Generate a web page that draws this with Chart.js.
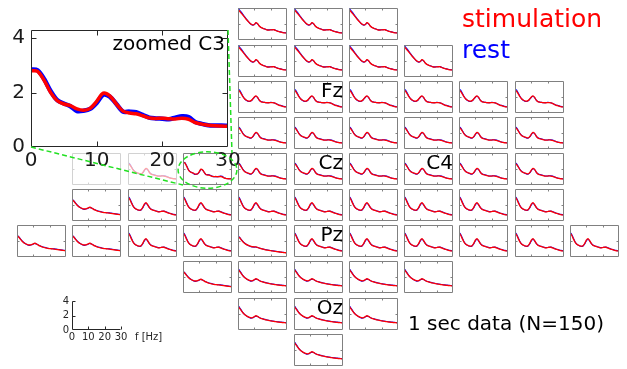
<!DOCTYPE html>
<html>
<head>
<meta charset="utf-8">
<script src="https://cdn.jsdelivr.net/npm/chart.js@4.4.0/dist/chart.umd.min.js"></script>
<style>
  html, body { margin: 0; padding: 0; background: #fff; }
  #fig { position: relative; width: 627px; height: 369px; overflow: hidden; }
  #fig canvas { position: absolute; }
</style>
</head>
<body>
<div id="fig"></div>
<script>
// frequency axis (Hz) shared by every spectrum
const freqs = [0, 1, 2, 3, 4, 5, 6, 7, 8, 9, 10, 11, 12, 13, 14, 15, 16, 17, 18, 19, 20, 21, 22, 23, 24, 25, 26, 27, 28, 29, 30];

const seriesNames = ['stimulation', 'rest'];
const seriesColors = ['#ff0000', '#0000ff'];

// C3 (shown in the zoomed inset)
const c3Stim = [2.80, 2.78, 2.45, 2.00, 1.70, 1.58, 1.52, 1.40, 1.35, 1.42, 1.68, 1.98, 1.88, 1.58, 1.32, 1.25, 1.22, 1.15, 1.07, 1.05, 1.06, 1.04, 1.03, 1.06, 1.02, 0.90, 0.84, 0.80, 0.78, 0.77, 0.76];
const c3Rest = [2.85, 2.82, 2.50, 2.05, 1.72, 1.60, 1.50, 1.32, 1.33, 1.40, 1.62, 1.92, 1.85, 1.58, 1.30, 1.30, 1.28, 1.18, 1.08, 1.05, 1.04, 1.02, 1.08, 1.13, 1.10, 0.92, 0.85, 0.80, 0.79, 0.79, 0.78];

// frontal channels
const frontStim = [3.80, 3.60, 3.35, 3.10, 2.85, 2.60, 2.38, 2.15, 1.98, 1.88, 1.95, 2.18, 2.05, 1.75, 1.58, 1.48, 1.40, 1.32, 1.25, 1.24, 1.26, 1.28, 1.28, 1.20, 1.10, 1.05, 1.00, 0.95, 0.90, 0.88, 0.86];
const frontRest = [3.95, 3.75, 3.48, 3.20, 2.92, 2.65, 2.40, 2.15, 1.96, 1.86, 1.92, 2.12, 2.02, 1.75, 1.58, 1.48, 1.40, 1.33, 1.27, 1.26, 1.28, 1.30, 1.30, 1.22, 1.12, 1.06, 1.02, 0.97, 0.93, 0.90, 0.88];

// fronto-central row
const midStim = [2.90, 2.70, 2.40, 2.05, 1.78, 1.62, 1.52, 1.48, 1.55, 1.75, 2.00, 2.15, 1.95, 1.62, 1.42, 1.36, 1.33, 1.30, 1.28, 1.28, 1.30, 1.30, 1.28, 1.20, 1.08, 0.98, 0.92, 0.86, 0.80, 0.76, 0.74];
const midRest = [3.05, 2.85, 2.50, 2.10, 1.80, 1.60, 1.48, 1.44, 1.52, 1.72, 1.96, 2.10, 1.92, 1.62, 1.44, 1.38, 1.34, 1.30, 1.28, 1.30, 1.33, 1.32, 1.28, 1.20, 1.10, 1.01, 0.95, 0.89, 0.83, 0.79, 0.78];

// central channels
const centStim = [2.70, 2.55, 2.25, 1.92, 1.70, 1.58, 1.50, 1.42, 1.40, 1.55, 1.85, 2.08, 1.95, 1.62, 1.38, 1.28, 1.24, 1.18, 1.12, 1.10, 1.12, 1.14, 1.12, 1.08, 1.00, 0.92, 0.86, 0.82, 0.78, 0.76, 0.74];
const centRest = [2.80, 2.65, 2.32, 1.96, 1.72, 1.58, 1.48, 1.38, 1.36, 1.50, 1.80, 2.02, 1.92, 1.62, 1.40, 1.32, 1.28, 1.22, 1.15, 1.12, 1.13, 1.15, 1.16, 1.12, 1.04, 0.95, 0.88, 0.84, 0.81, 0.79, 0.78];

// parietal channels
const parStim = [3.00, 2.75, 2.30, 1.90, 1.62, 1.48, 1.40, 1.36, 1.42, 1.70, 2.10, 2.30, 2.05, 1.70, 1.48, 1.38, 1.32, 1.25, 1.18, 1.15, 1.18, 1.22, 1.22, 1.15, 1.05, 0.98, 0.92, 0.86, 0.80, 0.76, 0.74];
const parRest = [3.10, 2.85, 2.38, 1.95, 1.65, 1.48, 1.38, 1.32, 1.38, 1.62, 2.00, 2.22, 2.02, 1.70, 1.50, 1.40, 1.33, 1.26, 1.20, 1.17, 1.19, 1.22, 1.23, 1.18, 1.08, 1.00, 0.94, 0.88, 0.83, 0.80, 0.78];

// temporal channels
const tempStim = [2.65, 2.50, 2.25, 2.00, 1.82, 1.68, 1.58, 1.52, 1.50, 1.55, 1.65, 1.72, 1.62, 1.48, 1.38, 1.30, 1.22, 1.16, 1.12, 1.08, 1.05, 1.03, 1.01, 0.98, 0.95, 0.92, 0.89, 0.86, 0.83, 0.80, 0.78];
const tempRest = [2.72, 2.56, 2.30, 2.04, 1.84, 1.68, 1.56, 1.48, 1.46, 1.52, 1.62, 1.70, 1.62, 1.50, 1.40, 1.32, 1.25, 1.20, 1.15, 1.10, 1.06, 1.04, 1.03, 1.01, 0.98, 0.95, 0.92, 0.89, 0.86, 0.83, 0.81];

// channel without alpha peak
const flatStim = [2.55, 2.40, 2.15, 1.90, 1.72, 1.58, 1.48, 1.40, 1.33, 1.28, 1.26, 1.26, 1.20, 1.12, 1.05, 1.00, 0.95, 0.90, 0.86, 0.82, 0.79, 0.76, 0.73, 0.70, 0.67, 0.64, 0.61, 0.58, 0.55, 0.53, 0.50];
const flatRest = [2.62, 2.46, 2.20, 1.94, 1.75, 1.60, 1.48, 1.38, 1.30, 1.26, 1.24, 1.24, 1.19, 1.12, 1.06, 1.01, 0.96, 0.92, 0.88, 0.84, 0.81, 0.78, 0.75, 0.72, 0.69, 0.66, 0.63, 0.60, 0.58, 0.56, 0.54];

// occipital channels
const occStim = [2.95, 2.70, 2.42, 2.15, 1.95, 1.80, 1.68, 1.58, 1.52, 1.56, 1.68, 1.78, 1.70, 1.56, 1.46, 1.40, 1.34, 1.28, 1.22, 1.18, 1.14, 1.10, 1.07, 1.04, 1.01, 0.98, 0.96, 0.94, 0.92, 0.90, 0.88];
const occRest = [3.05, 2.80, 2.48, 2.18, 1.96, 1.80, 1.66, 1.55, 1.48, 1.52, 1.64, 1.74, 1.68, 1.56, 1.47, 1.41, 1.35, 1.30, 1.24, 1.20, 1.16, 1.13, 1.10, 1.07, 1.04, 1.01, 0.99, 0.97, 0.95, 0.93, 0.91];

const yTicks = [0, 2, 4];
const xTicks = [0, 10, 20, 30];
const unitLabel = 'f [Hz]';
const insetTitle = 'zoomed C3';
const dataNote = '1 sec data (N=150)';

// which spectrum goes in which cell of the head layout ('.' = no plot, lowercase = faded)
const profiles = {
  F: [frontStim, frontRest], M: [midStim, midRest], C: [centStim, centRest],
  K: [c3Stim, c3Rest], P: [parStim, parRest], T: [tempStim, tempRest],
  S: [flatStim, flatRest], O: [occStim, occRest], c: [centStim, centRest], e: null
};
const montage = [
  '....FFF....',
  '....FFFF...',
  '....MMMMMM.',
  '....CCCCCC.',
  '.ecKCCCCCC.',
  '.TPPPPPPPP.',
  'TTPPSPPPPPP',
  '...TOOOO...',
  '....OOO....',
  '.....O.....'
];
const channelNames = { '2,5': 'Fz', '4,5': 'Cz', '4,7': 'C4', '6,5': 'Pz', '8,5': 'Oz' };

Chart.defaults.font.family = 'DejaVu Sans';
Chart.defaults.animation = false;

const framePlugin = {
  id: 'frame',
  afterDatasetsDraw(chart, args, opts) {
    const { ctx, chartArea: a } = chart;
    const sx = chart.scales.x, sy = chart.scales.y;
    const L = Math.round(a.left) + 0.5, R = Math.round(a.right) - 0.5;
    const T = Math.round(a.top) + 0.5, B = Math.round(a.bottom) - 0.5;
    const len = opts.tick;
    ctx.save();
    ctx.strokeStyle = opts.color;
    ctx.lineWidth = 1;
    ctx.beginPath();
    if (opts.box) {
      ctx.rect(L, T, R - L, B - T);
    } else {
      ctx.moveTo(L, T); ctx.lineTo(L, B); ctx.lineTo(R, B);
    }
    xTicks.forEach(v => {
      if (v <= sx.min || (opts.box && v >= sx.max)) return;
      const px = Math.round(sx.getPixelForValue(v)) + 0.5;
      ctx.moveTo(px, B); ctx.lineTo(px, B - len);
      if (opts.box) { ctx.moveTo(px, T); ctx.lineTo(px, T + len); }
    });
    yTicks.forEach(v => {
      if (v <= sy.min || (opts.box && v >= sy.max)) return;
      const py = Math.round(sy.getPixelForValue(v)) + 0.5;
      ctx.moveTo(L, py); ctx.lineTo(L + len, py);
      if (opts.box) { ctx.moveTo(R, py); ctx.lineTo(R - len, py); }
    });
    ctx.stroke();
    if (opts.label) {
      ctx.fillStyle = '#000';
      ctx.font = opts.labelSize + 'px "DejaVu Sans"';
      ctx.textAlign = 'right';
      ctx.textBaseline = 'alphabetic';
      ctx.fillText(opts.label, a.right - opts.labelInset, a.top + opts.labelDy);
    }
    if (opts.unit) {
      ctx.fillStyle = '#262626';
      ctx.font = '10px "DejaVu Sans"';
      ctx.textAlign = 'left';
      ctx.textBaseline = 'top';
      ctx.fillText(opts.unit, a.right + 14, a.bottom + 2);
    }
    ctx.restore();
  }
};
Chart.register(framePlugin);

const fig = document.getElementById('fig');
function makeCanvas(left, top, w, h) {
  const c = document.createElement('canvas');
  c.width = w; c.height = h;
  c.style.left = left + 'px'; c.style.top = top + 'px';
  c.style.width = w + 'px'; c.style.height = h + 'px';
  fig.appendChild(c);
  return c;
}
function seriesSets(pair, widths) {
  if (!pair) return [];
  return seriesNames.map((name, i) => ({
    label: name,
    data: freqs.map((f, k) => ({ x: f, y: pair[i][k] })),
    borderColor: seriesColors[i],
    borderWidth: widths[i],
    pointRadius: 0,
    tension: 0.3,
    fill: false
  }));
}

const cellW = 49, cellH = 32;
let c3Chart = null;
montage.forEach((row, r) => {
  [...row].forEach((code, col) => {
    if (code === '.') return;
    const left = Math.round(17 + 55.3 * col);
    const top = Math.round(8.4 + 36.15 * r);
    const cv = makeCanvas(left, top, cellW, cellH);
    if (code === 'c' || code === 'e') cv.style.opacity = 0.35;
    const ch = new Chart(cv, {
      type: 'line',
      data: { datasets: seriesSets(profiles[code], [1.3, 1.1]) },
      options: {
        responsive: false,
        layout: { padding: 0 },
        plugins: {
          legend: { display: false }, tooltip: { enabled: false },
          frame: { box: true, color: '#808080', tick: 2, label: channelNames[r + ',' + col],
                   labelSize: 20, labelDy: 16, labelInset: 0 }
        },
        scales: {
          x: { type: 'linear', min: 0, max: 30, display: false },
          y: { type: 'linear', min: 0, max: 4, display: false }
        }
      }
    });
    if (code === 'K') c3Chart = ch;
  });
});

// zoomed C3 inset
const insetCanvas = makeCanvas(0, 12, 250, 165);
const insetChart = new Chart(insetCanvas, {
  type: 'line',
  data: { datasets: seriesSets(profiles.K, [3.5, 4.5]) },
  options: {
    responsive: false,
    layout: { padding: { top: 5, right: 22, left: 0, bottom: 0 } },
    plugins: {
      legend: { display: false }, tooltip: { enabled: false },
      frame: { box: true, color: '#262626', tick: 5, label: insetTitle, labelSize: 20, labelDy: 20, labelInset: 3 }
    },
    scales: {
      x: {
        type: 'linear', min: 0, max: 30,
        grid: { display: false, drawTicks: false, tickLength: 0 }, border: { display: false },
        ticks: { font: { size: 20 }, color: '#1a1a1a', padding: 2, maxRotation: 0, autoSkip: false },
        afterBuildTicks: s => { s.ticks = xTicks.map(v => ({ value: v })); },
        afterFit: s => { s.height = 30; }
      },
      y: {
        type: 'linear', min: 0, max: 4.3,
        grid: { display: false, drawTicks: false, tickLength: 0 }, border: { display: false },
        ticks: { font: { size: 20 }, color: '#1a1a1a', padding: 6, autoSkip: false },
        afterBuildTicks: s => { s.ticks = yTicks.map(v => ({ value: v })); },
        afterFit: s => { s.width = 31; }
      }
    }
  }
});

// scale key (bottom left)
const keyCanvas = makeCanvas(50, 292, 120, 52);
new Chart(keyCanvas, {
  type: 'line',
  data: { datasets: [] },
  options: {
    responsive: false,
    layout: { padding: { top: 7, right: 49, left: 0, bottom: 0 } },
    plugins: {
      legend: { display: false }, tooltip: { enabled: false },
      frame: { box: false, color: '#262626', tick: 3, unit: unitLabel }
    },
    scales: {
      x: {
        type: 'linear', min: 0, max: 30,
        grid: { display: false, drawTicks: false, tickLength: 0 }, border: { display: false },
        ticks: { font: { size: 10 }, color: '#262626', padding: 1, maxRotation: 0, autoSkip: false },
        afterBuildTicks: s => { s.ticks = xTicks.map(v => ({ value: v })); },
        afterFit: s => { s.height = 14; }
      },
      y: {
        type: 'linear', min: 0, max: 4,
        grid: { display: false, drawTicks: false, tickLength: 0 }, border: { display: false },
        ticks: { font: { size: 10 }, color: '#262626', padding: 3, autoSkip: false },
        afterBuildTicks: s => { s.ticks = yTicks.map(v => ({ value: v })); },
        afterFit: s => { s.width = 22; }
      }
    }
  }
});

// overlay: zoom connectors and free text
const over = makeCanvas(0, 0, 627, 369);
over.style.pointerEvents = 'none';
const octx = over.getContext('2d');
function absArea(ch) {
  const a = ch.chartArea, cv = ch.canvas;
  const ox = parseFloat(cv.style.left), oy = parseFloat(cv.style.top);
  return { left: ox + a.left, right: ox + a.right, top: oy + a.top, bottom: oy + a.bottom };
}
const ia = absArea(insetChart), ca = absArea(c3Chart);
octx.save();
octx.strokeStyle = '#22e022';
octx.lineWidth = 1.5;
octx.setLineDash([5, 3]);
octx.beginPath();
octx.moveTo(ia.left, ia.bottom); octx.lineTo(ca.left, ca.bottom);
octx.moveTo(ia.right, ia.top); octx.lineTo(ca.right, ca.top);
octx.stroke();
octx.beginPath();
octx.ellipse((ca.left + ca.right) / 2, (ca.top + ca.bottom) / 2 + 1, (ca.right - ca.left) * 0.6, (ca.bottom - ca.top) * 0.57, 0, 0, Math.PI * 2);
octx.stroke();
octx.restore();

octx.textBaseline = 'alphabetic';
octx.textAlign = 'left';
octx.font = '25px "DejaVu Sans"';
octx.fillStyle = seriesColors[0];
octx.fillText(seriesNames[0], 462, 27);
octx.fillStyle = seriesColors[1];
octx.fillText(seriesNames[1], 462, 58);
octx.font = '20px "DejaVu Sans"';
octx.fillStyle = '#000';
octx.fillText(dataNote, 408, 330);
</script>
</body>
</html>
